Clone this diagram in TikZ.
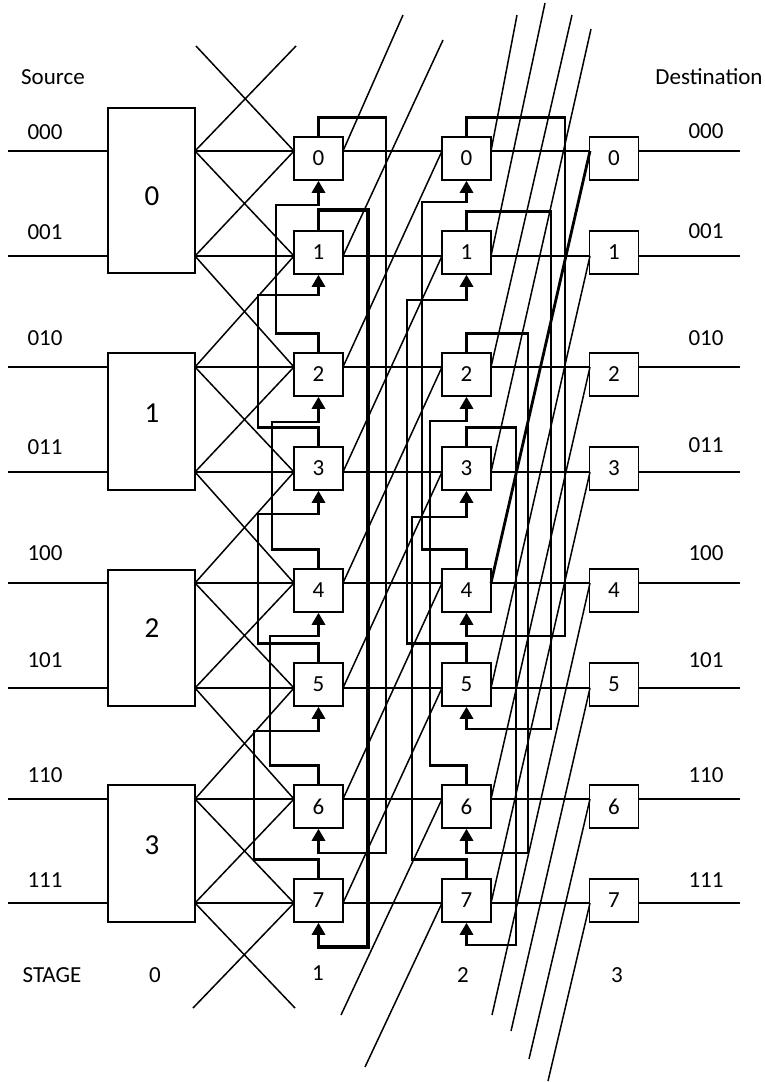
\documentclass[tikz,border=0pt]{standalone}
\usepackage{fontspec}
\setmainfont{Carlito}
\usetikzlibrary{arrows.meta}
\begin{document}
\begin{tikzpicture}[x=1pt,y=-1pt,
  wire/.style={line width=1.5pt},
  heavy/.style={line width=2.8pt},
  fb/.style={line width=2.9pt,-{Triangle[width=13pt,length=12pt]}},
  sbox/.style={draw,line width=1.5pt,minimum width=49pt,minimum height=43pt,inner sep=0pt,font=\fontsize{23}{26}\selectfont},
  bbox/.style={draw,line width=1.5pt,minimum width=87pt,inner sep=0pt},
  bnum/.style={inner sep=0pt,font=\fontsize{29}{33}\selectfont},
  lbl/.style={inner sep=0pt,font=\fontsize{23}{26}\selectfont}
]
\fill[white] (0,0) rectangle (765,1082);
\useasboundingbox (0,0) rectangle (765,1082);

% stage 0: four large switching elements
\node[bbox,minimum height=165pt] (b0-0) at (151.5,190.5) {};
\node[bbox,minimum height=137pt] (b0-1) at (151.5,421.5) {};
\node[bbox,minimum height=136pt] (b0-2) at (151.5,638) {};
\node[bbox,minimum height=137pt] (b0-3) at (151.5,853.5) {};
\node[bnum] (n0-0) at (152,196) {0};
\node[bnum] (n0-1) at (152,413) {1};
\node[bnum] (n0-2) at (152,628) {2};
\node[bnum] (n0-3) at (152,845) {3};

% rows: index / wire level / box top
\foreach \r/\y/\t in {0/151/137,1/256/231,2/367/353,3/472/447,4/583/569,5/688/663,6/799/785,7/903/879}{
  \coordinate (in-\r) at (8,\y);
  \coordinate (l0-\r) at (108,\y);
  \coordinate (r0-\r) at (195,\y);
  \coordinate (out-\r) at (740,\y);
  \foreach \s/\xl/\xr in {1/294/343,2/442/491,3/590/638}{
    \node[sbox] (b\s-\r) at ({(\xl+\xr)/2},\t+21.5) {\r};
    \coordinate (l\s-\r) at (\xl,\y);
    \coordinate (r\s-\r) at (\xr,\y);
  }
}

% straight wires through every stage
\foreach \r in {0,...,7}{
  \draw[wire] (in-\r) -- (l0-\r);
  \draw[wire] (r0-\r) -- (l1-\r);
  \draw[wire] (r1-\r) -- (l2-\r);
  \draw[wire] (r2-\r) -- (l3-\r);
  \draw[wire] (r3-\r) -- (out-\r);
}

% stage 0 -> 1: neighbour crossings
\coordinate (t0) at (196,46);
\coordinate (t1) at (296,46);
\coordinate (u0) at (193,1008);
\coordinate (u1) at (295,1008);
\draw[wire] (r0-0) -- (t1);
\draw[wire] (l1-0) -- (t0);
\draw[wire] (r0-7) -- (u1);
\draw[wire] (l1-7) -- (u0);
\foreach \r [evaluate=\r as \n using int(\r+1)] in {0,...,6}{
  \draw[wire] (r0-\r) -- (l1-\n);
  \draw[wire] (r0-\n) -- (l1-\r);
}

% stage 1 -> 2: shift by two rows
\coordinate (p0) at (403,15);
\coordinate (p1) at (443,40);
\coordinate (q6) at (341,1015);
\coordinate (q7) at (365,1067);
\draw[wire] (r1-0) -- (p0);
\draw[wire] (r1-1) -- (p1);
\draw[wire] (l2-6) -- (q6);
\draw[wire] (l2-7) -- (q7);
\foreach \r [evaluate=\r as \m using int(\r-2)] in {2,...,7}{
  \draw[wire] (r1-\r) -- (l2-\m);
}

% stage 2 -> 3: shift by four rows
\coordinate (v0) at (517,15);
\coordinate (v1) at (545,3);
\coordinate (v2) at (572,15);
\coordinate (v3) at (591,29);
\coordinate (w4) at (492,1015);
\coordinate (w5) at (511,1031);
\coordinate (w6) at (529,1059);
\coordinate (w7) at (548,1081);
\foreach \r in {0,...,3}{\draw[wire] (r2-\r) -- (v\r);}
\foreach \r in {4,...,7}{\draw[wire] (l3-\r) -- (w\r);}
\draw[heavy] (r2-4) -- (l3-0);
\foreach \r [evaluate=\r as \m using int(\r-4)] in {5,...,7}{
  \draw[wire] (r2-\r) -- (l3-\m);
}

% stage 1 feedback loops (row r -> row r-2)
\foreach \a/\b/\vx/\vy in {2/0/276/205,3/1/258/295,4/2/272/422,5/3/258/514,6/4/270/636,7/5/254/731,0/6/386/853}{
  \draw[fb] (b1-\a.north) -- ++(0,-19) -| (\vx,\vy) -| (b1-\b.south);
}
\draw[fb,line width=3.7pt] (b1-1.north) -- ++(0,-20) -| (368,947) -| (b1-7.south);

% stage 2 feedback loops (row r -> row r+-4)
\foreach \a/\b/\vx/\vy in {0/4/565/636,1/5/551/729,2/6/528/853,3/7/516/945,4/0/422/202,5/1/407/300,6/2/430/421,7/3/412/517}{
  \draw[fb] (b2-\a.north) -- ++(0,-19) -| (\vx,\vy) -| (b2-\b.south);
}

% labels
\node[lbl] (src) at (53,77) {Source};
\node[lbl] (dst) at (709,77) {Destination};
\foreach \r/\c/\yl/\yr in {0/000/132/131,1/001/232/231,2/010/338/338,3/011/447/445,4/100/553/553,5/101/660/660,6/110/775/775,7/111/880/880}{
  \node[lbl] (la-\r) at (45,\yl) {\c};
  \node[lbl] (ra-\r) at (706,\yr) {\c};
}
\node[lbl] (stg) at (52,975) {STAGE};
\node[lbl] (st0) at (155,975) {0};
\node[lbl] (st1) at (318,973) {1};
\node[lbl] (st2) at (463,975) {2};
\node[lbl] (st3) at (617,975) {3};
\end{tikzpicture}
\end{document}
